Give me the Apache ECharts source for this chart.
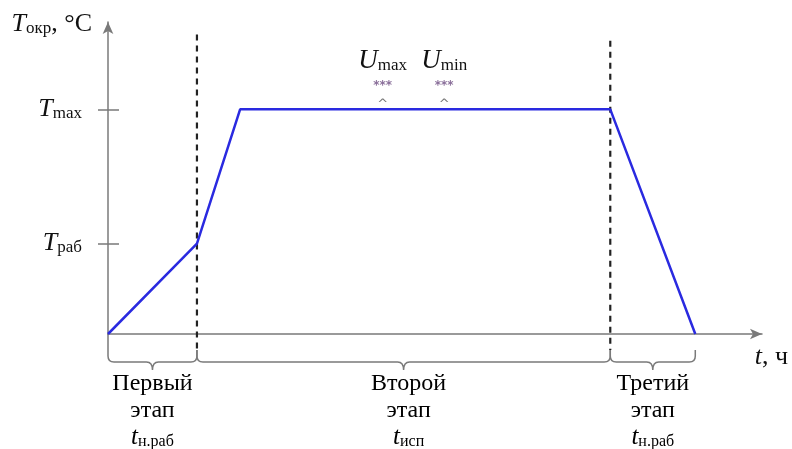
<!DOCTYPE html>
<html>
<head>
<meta charset="utf-8">
<script src="https://cdn.jsdelivr.net/npm/echarts@6/dist/echarts.min.js"></script>
<style>
  html, body { margin: 0; padding: 0; background: #fff; }
  #chart { width: 792px; height: 449px; }
</style>
</head>
<body>
<div id="chart"></div>
<script>
// профиль температуры (t в условных единицах, T в условных единицах)
var profileT = [0, 13.6, 20.2, 76.8, 89.8];
var profileTemp = [0, 29, 72, 72, 0];
var tMax = 72;
var tRab = 29;
var yTickValues = [tRab, tMax];
var yTickNames = ['раб', 'max'];

// границы этапов
var stageBounds = [0, 13.6, 76.8, 89.8];
var stageNames = ['Первый', 'Второй', 'Третий'];
var stageSubs = ['н.раб', 'исп', 'н.раб'];
var dashTops = [96, 94];

// отметки U
var uPos = [42, 51.4];
var uNames = ['max', 'min'];

var serif = '"Liberation Serif", "DejaVu Serif", serif';
var axisGray = '#7a7a7a';

var chart = echarts.init(document.getElementById('chart'));

var lineData = profileT.map(function (t, i) { return [t, profileTemp[i]]; });
var stageData = stageNames.map(function (n, i) { return [stageBounds[i], stageBounds[i + 1]]; });
var dashData = dashTops.map(function (top, i) { return [stageBounds[i + 1], top]; });
var uData = uPos.map(function (x) { return [x, tMax]; });

var richT = {
  i: { fontFamily: serif, fontStyle: 'italic', fontSize: 26, color: '#111' },
  s: { fontFamily: serif, fontSize: 17, color: '#111', padding: [9, 0, 0, 0] },
  r: { fontFamily: serif, fontSize: 26, color: '#111' }
};

var option = {
  animation: false,
  grid: { left: 108, right: 30, top: 22, bottom: 115 },
  xAxis: {
    type: 'value', min: 0, max: 100,
    axisLine: { lineStyle: { color: axisGray, width: 1.5 }, symbol: ['none', 'arrow'], symbolSize: [8, 12] },
    axisTick: { show: false },
    axisLabel: { show: false },
    splitLine: { show: false },
    name: '{i|t}{r|, ч}',
    nameLocation: 'end',
    nameGap: 26,
    nameTextStyle: { align: 'right', verticalAlign: 'top', padding: [10, 0, 0, 0], rich: richT }
  },
  yAxis: [{
    type: 'value', min: 0, max: 100,
    axisLine: { lineStyle: { color: axisGray, width: 1.5 }, symbol: ['none', 'arrow'], symbolSize: [8, 12] },
    axisTick: { show: true, length: 10, customValues: yTickValues, lineStyle: { color: axisGray, width: 1.5 } },
    axisLabel: {
      show: true, margin: 26, customValues: yTickValues,
      formatter: function (v) { return '{i|T}{s|' + yTickNames[yTickValues.indexOf(v)] + '}'; },
      rich: richT
    },
    splitLine: { show: false },
    name: '{i|T}{s|окр}{r|, °C}',
    nameLocation: 'end',
    nameGap: 0,
    nameTextStyle: { align: 'right', verticalAlign: 'middle', padding: [4, 16, 0, 0], rich: richT }
  }, {
    type: 'value', min: 0, max: 100, position: 'left',
    axisLine: { show: false },
    axisTick: { show: true, inside: true, length: 11, customValues: yTickValues, lineStyle: { color: axisGray, width: 1.5 } },
    axisLabel: { show: false },
    splitLine: { show: false }
  }],
  series: [{
    type: 'line',
    data: lineData,
    symbol: 'none',
    lineStyle: { color: '#2a2ae0', width: 2.5 },
    z: 3
  }, {
    type: 'custom',
    data: dashData,
    renderItem: function (params, api) {
      var p1 = api.coord([api.value(0), api.value(1)]);
      var p2 = api.coord([api.value(0), 0]);
      return {
        type: 'line',
        shape: { x1: p1[0], y1: p1[1], x2: p2[0], y2: p2[1] + 16 },
        style: { stroke: '#222', lineWidth: 2.2, lineDash: [6, 5] }
      };
    },
    z: 2
  }, {
    type: 'custom',
    data: stageData,
    renderItem: function (params, api) {
      var a = api.coord([api.value(0), 0]);
      var b = api.coord([api.value(1), 0]);
      var y0 = a[1];
      var yt = y0 + (params.dataIndex === 0 ? 0 : 16);
      var yb = y0 + 16;
      var yh = y0 + 28;
      var xa = a[0], xb = b[0], xm = (xa + xb) / 2;
      var r = 6;
      var path = 'M' + xa + ',' + yt + ' L' + xa + ',' + (yh - r) +
        ' Q' + xa + ',' + yh + ' ' + (xa + r) + ',' + yh +
        ' L' + (xm - r) + ',' + yh +
        ' Q' + xm + ',' + yh + ' ' + xm + ',' + (yh + 8) +
        ' Q' + xm + ',' + yh + ' ' + (xm + r) + ',' + yh +
        ' L' + (xb - r) + ',' + yh +
        ' Q' + xb + ',' + yh + ' ' + xb + ',' + (yh - r) +
        ' L' + xb + ',' + yb;
      var i = params.dataIndex;
      return {
        type: 'group',
        children: [{
          type: 'path',
          shape: { pathData: path },
          style: { stroke: axisGray, lineWidth: 1.5, fill: null }
        }, {
          type: 'text',
          style: {
            text: '{n|' + stageNames[i] + '}\n{n|этап}\n{i|t}{s|' + stageSubs[i] + '}',
            x: xm + (i === 1 ? 5 : 0),
            y: y0 + 36,
            align: 'center',
            verticalAlign: 'top',
            rich: {
              n: { fontFamily: serif, fontSize: 24, lineHeight: 27, color: '#111' },
              i: { fontFamily: serif, fontStyle: 'italic', fontSize: 25, lineHeight: 27, color: '#111' },
              s: { fontFamily: serif, fontSize: 16, lineHeight: 27, color: '#111', padding: [9, 0, 0, 0] }
            }
          }
        }]
      };
    },
    z: 2
  }, {
    type: 'scatter',
    data: uData,
    symbolSize: 0,
    itemStyle: { opacity: 1 },
    label: {
      show: true,
      position: 'top',
      distance: -2,
      color: '#111',
      formatter: function (p) {
        return '{u|U}{s|' + uNames[p.dataIndex] + '}\n{st|***}\n{c|^}';
      },
      rich: {
        u: { fontFamily: serif, fontStyle: 'italic', fontSize: 27, lineHeight: 28, color: '#111' },
        s: { fontFamily: serif, fontSize: 17, lineHeight: 28, color: '#111', padding: [9, 0, 0, 0] },
        st: { fontFamily: 'DejaVu Sans, sans-serif', fontSize: 12, fontWeight: 'bold', lineHeight: 22, color: '#8a6f9a' },
        c: { fontFamily: 'DejaVu Sans, sans-serif', fontSize: 13, lineHeight: 14, color: '#777' }
      }
    },
    emphasis: { disabled: true },
    z: 4
  }]
};

chart.setOption(option);
</script>
</body>
</html>
